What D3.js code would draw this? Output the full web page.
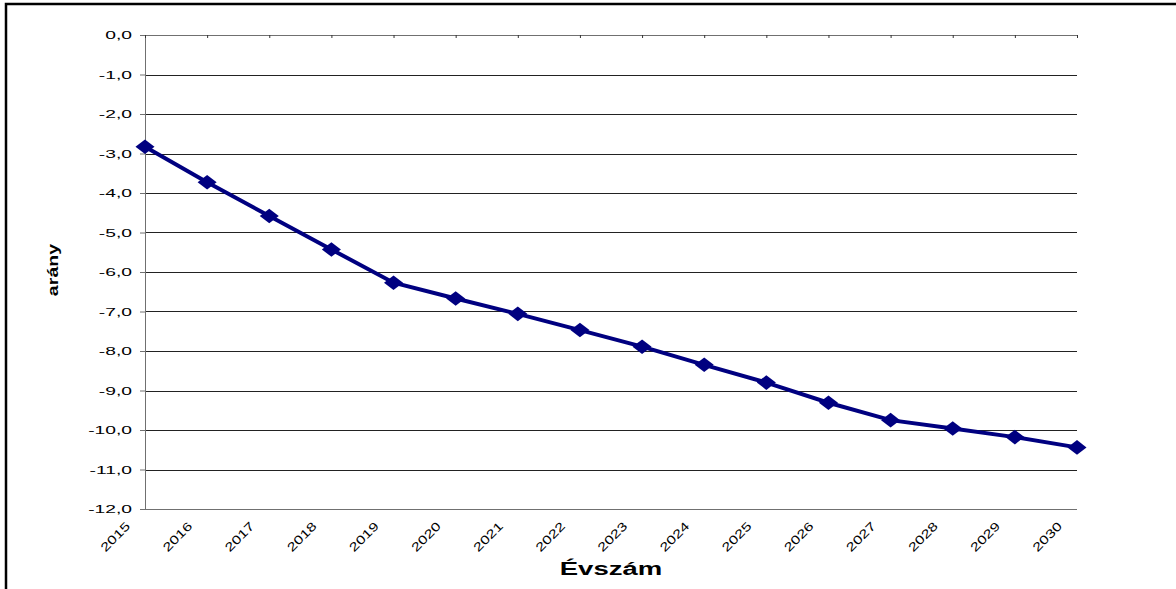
<!DOCTYPE html>
<html>
<head>
<meta charset="utf-8">
<script src="https://cdn.jsdelivr.net/npm/d3@7"></script>
<style>
  body { margin: 0; background: #fff; }
  svg { display: block; font-family: "Liberation Sans", Arial, sans-serif; }
</style>
</head>
<body>
<div id="chart"></div>
<script>
// data
var years = ["2015","2016","2017","2018","2019","2020","2021","2022","2023","2024","2025","2026","2027","2028","2029","2030"];
var values = [-2.83,-3.73,-4.58,-5.43,-6.27,-6.67,-7.06,-7.47,-7.89,-8.35,-8.80,-9.31,-9.75,-9.96,-10.18,-10.44];
var yTicks = [0,-1,-2,-3,-4,-5,-6,-7,-8,-9,-10,-11,-12];

var W = 1176, H = 589;
var margin = {top: 35, left: 145, right: 99, bottom: 80};
var width = W - margin.left - margin.right,
    height = H - margin.top - margin.bottom;

var svg = d3.select("#chart").append("svg")
    .attr("width", W)
    .attr("height", H);

// outer frame (cut off at right and bottom)
svg.append("rect")
    .attr("x", 6).attr("y", 4)
    .attr("width", W + 20).attr("height", H + 20)
    .attr("fill", "none")
    .attr("stroke", "#000")
    .attr("stroke-width", 2.5);

var g = svg.append("g")
    .attr("transform", "translate(" + margin.left + "," + margin.top + ")");

var x = d3.scalePoint()
    .domain(years)
    .range([0, width]);

var y = d3.scaleLinear()
    .domain([-12, 0])
    .range([height, 0]);

// gridlines
g.append("g")
    .selectAll("line")
    .data(yTicks)
    .enter().append("line")
    .attr("x1", 0).attr("x2", width)
    .attr("y1", function(d) { return Math.round(y(d)) + 0.5; })
    .attr("y2", function(d) { return Math.round(y(d)) + 0.5; })
    .attr("stroke", function(d) { return (d === 0 || d === -12) ? "#707070" : "#222"; })
    .attr("stroke-width", 1);

// y axis
var yAxis = g.append("g")
    .call(d3.axisLeft(y).tickValues(yTicks).tickSize(5).tickSizeOuter(0)
        .tickFormat(function(d) { return d3.format(".1f")(d).replace(".", ",").replace("−", "-"); }));
yAxis.select(".domain").attr("stroke", "#707070");
yAxis.selectAll(".tick line").attr("stroke", "#707070");
yAxis.selectAll("text")
    .attr("fill", "#000")
    .style("font-size", "11px")
    .attr("x", null)
    .attr("text-anchor", "end")
    .attr("transform", "translate(-13,0) scale(1.75,1)");

// top axis at value 0 with tick marks pointing down
var topAxis = g.append("g")
    .call(d3.axisBottom(x).tickSize(3).tickSizeOuter(0).tickFormat(""));
topAxis.select(".domain").remove();
topAxis.selectAll(".tick line").attr("stroke", "#333");

// category labels at the bottom
g.append("g")
    .selectAll("text")
    .data(years)
    .enter().append("text")
    .attr("transform", function(d) {
        return "translate(" + (x(d) - 17) + "," + (height + 15) + ") rotate(-45) scale(1.35,1)";
    })
    .attr("text-anchor", "end")
    .attr("dy", "0.35em")
    .style("font-size", "12px")
    .attr("fill", "#000")
    .text(function(d) { return d; });

// line
var line = d3.line()
    .x(function(d, i) { return x(years[i]); })
    .y(function(d) { return y(d); });

g.append("path")
    .datum(values)
    .attr("fill", "none")
    .attr("stroke", "#000080")
    .attr("stroke-width", 4)
    .attr("d", line);

// flat diamond markers
var flatDiamond = {
    draw: function(ctx, size) {
        var w = Math.sqrt(size) * 0.72, h = Math.sqrt(size) * 0.55;
        ctx.moveTo(0, -h);
        ctx.lineTo(w, 0);
        ctx.lineTo(0, h);
        ctx.lineTo(-w, 0);
        ctx.closePath();
    }
};

g.selectAll(".pt")
    .data(values)
    .enter().append("path")
    .attr("class", "pt")
    .attr("d", d3.symbol().type(flatDiamond).size(175))
    .attr("transform", function(d, i) {
        return "translate(" + x(years[i]) + "," + y(d) + ")";
    })
    .attr("fill", "#000080");

// axis titles
svg.append("text")
    .attr("transform", "translate(611,575) scale(1.45,1)")
    .attr("text-anchor", "middle")
    .style("font-size", "19px")
    .style("font-weight", "bold")
    .text("Évszám");

svg.append("text")
    .attr("transform", "translate(58,270) rotate(-90) scale(1.4,1)")
    .attr("text-anchor", "middle")
    .style("font-size", "14px")
    .style("font-weight", "bold")
    .text("arány");
</script>
</body>
</html>
